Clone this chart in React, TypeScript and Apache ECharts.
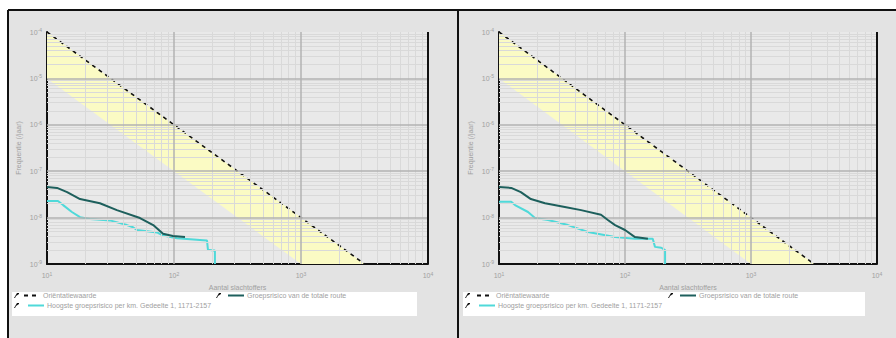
import React, { useEffect, useRef } from 'react';
import * as echarts from 'echarts';

// ---- data ----
const X_MIN_EXP = 1;
const X_MAX_EXP = 4;
const Y_MIN_EXP = -9;
const Y_MAX_EXP = -4;

const NAME_REF = 'Oriëntatiewaarde';
const NAME_TOTAL = 'Groepsrisico van de totale route';
const NAME_KM = 'Hoogste groepsrisico per km. Gedeelte 1, 1171-2157';
const X_TITLE = 'Aantal slachtoffers';
const Y_TITLE = 'Frequentie (/jaar)';

// oriëntatiewaarde: F = 1e-2 / N^2
const refN = [10, 3162.3];
const refF = [1e-4, 1e-9];
// lower edge of the yellow band (0.1 x oriëntatiewaarde)
const bandLowN = [10, 1000];
const bandLowF = [1e-5, 1e-9];

// left panel
const leftTotalN = [10, 12, 14.4, 18.2, 26.1, 35.5, 54, 68.6, 82, 98, 122];
const leftTotalF = [4.57e-8, 4.37e-8, 3.55e-8, 2.51e-8, 2.04e-8, 1.45e-8, 9.8e-9, 6.9e-9, 4.5e-9, 4.0e-9, 3.8e-9];
const leftKmN = [10, 12.2, 13.4, 15.7, 18.2, 21.8, 31.3, 42.6, 47.6, 51.1, 73.5, 82, 105.5, 160, 182, 185, 203, 210, 210];
const leftKmF = [2.29e-8, 2.29e-8, 1.86e-8, 1.32e-8, 1.02e-8, 9.3e-9, 8.7e-9, 6.9e-9, 6.2e-9, 5.4e-9, 4.8e-9, 4.1e-9, 3.6e-9, 3.3e-9, 3.2e-9, 2.04e-9, 1.95e-9, 1.95e-9, 1e-9];

// right panel
const rightTotalN = [10, 12.5, 14.9, 17.9, 23.2, 33.3, 44.8, 64.5, 73.1, 83.4, 100, 120, 152];
const rightTotalF = [4.57e-8, 4.37e-8, 3.55e-8, 2.51e-8, 2.04e-8, 1.7e-8, 1.45e-8, 1.15e-8, 8.9e-9, 6.9e-9, 5.4e-9, 3.8e-9, 3.5e-9];
const rightKmN = [10, 12.5, 13.4, 17, 19.3, 24.5, 35.3, 50.8, 83.4, 120, 166, 173, 194, 208, 208];
const rightKmF = [2.19e-8, 2.19e-8, 1.86e-8, 1.32e-8, 9.8e-9, 8.9e-9, 6.9e-9, 4.9e-9, 3.8e-9, 3.5e-9, 3.5e-9, 2.34e-9, 2.24e-9, 2.0e-9, 1e-9];

const MINOR_MULTS = [2, 3, 4, 5, 6, 7, 8, 9];

const zip = (a: number[], b: number[]) => a.map((v, i) => [v, b[i]]);

const TXT = '#a0a0a0';
const FONT = 'Liberation Sans, Arial, sans-serif';

function buildGridLines() {
  const xMin = Math.pow(10, X_MIN_EXP);
  const xMax = Math.pow(10, X_MAX_EXP);
  const yMin = Math.pow(10, Y_MIN_EXP);
  const yMax = Math.pow(10, Y_MAX_EXP);
  const lines: any[] = [];
  const minor = { color: '#d9d9d9', width: 1, type: 'solid' };
  const major = { color: '#b2b2b2', width: 1.5, type: 'solid' };
  const vLine = (x: number, st: any) => [{ coord: [x, yMin], lineStyle: st }, { coord: [x, yMax] }];
  const hLine = (y: number, st: any) => [{ coord: [xMin, y], lineStyle: st }, { coord: [xMax, y] }];
  for (let e = Y_MIN_EXP; e < Y_MAX_EXP; e++) {
    MINOR_MULTS.forEach((m) => lines.push(hLine(m * Math.pow(10, e), minor)));
  }
  for (let e = X_MIN_EXP; e < X_MAX_EXP; e++) {
    MINOR_MULTS.forEach((m) => lines.push(vLine(m * Math.pow(10, e), minor)));
  }
  for (let e = Y_MIN_EXP + 1; e < Y_MAX_EXP; e++) lines.push(hLine(Math.pow(10, e), major));
  for (let e = X_MIN_EXP + 1; e < X_MAX_EXP; e++) lines.push(vLine(Math.pow(10, e), major));
  lines.push(vLine(xMax, { color: '#111', width: 2, type: 'solid' }));
  return lines;
}

const supFormatter = (v: number) => `{b|10}{s|${Math.round(Math.log10(v))}}`;
const labelRich = {
  b: { fontSize: 7, color: TXT, fontFamily: FONT },
  s: { fontSize: 5, color: TXT, fontFamily: FONT, padding: [0, 0, 4, 0] },
};

function panelSeries(idx: number, totalN: number[], totalF: number[], kmN: number[], kmF: number[]) {
  const bandPoly = [
    [refN[0], refF[0]],
    [refN[1], refF[1]],
    [bandLowN[1], bandLowF[1]],
    [bandLowN[0], bandLowF[0]],
  ];
  return [
    {
      type: 'custom',
      xAxisIndex: idx,
      yAxisIndex: idx,
      z: 1,
      silent: true,
      data: bandPoly,
      encode: { x: 0, y: 1 },
      renderItem: (params: any, api: any) => {
        if (params.dataIndexInside !== 0) return null;
        const pts = bandPoly.map((p) => api.coord(p));
        return { type: 'polygon', shape: { points: pts }, style: { fill: '#fbfbc4' } };
      },
    },
    {
      type: 'line',
      xAxisIndex: idx,
      yAxisIndex: idx,
      z: 2,
      silent: true,
      symbol: 'none',
      data: [[10, 1e-9]],
      lineStyle: { width: 0 },
      markLine: { silent: true, symbol: 'none', label: { show: false }, animation: false, data: buildGridLines() },
    },
    {
      name: NAME_REF,
      type: 'line',
      xAxisIndex: idx,
      yAxisIndex: idx,
      z: 3,
      symbol: 'none',
      data: zip(refN, refF),
      lineStyle: { color: '#111', width: 1.6, type: [4, 4] },
      itemStyle: { color: '#111' },
    },
    {
      name: NAME_KM,
      type: 'line',
      xAxisIndex: idx,
      yAxisIndex: idx,
      z: 4,
      symbol: 'none',
      data: zip(kmN, kmF),
      lineStyle: { color: '#4fd9d9', width: 2 },
      itemStyle: { color: '#4fd9d9' },
    },
    {
      name: NAME_TOTAL,
      type: 'line',
      xAxisIndex: idx,
      yAxisIndex: idx,
      z: 5,
      symbol: 'none',
      data: zip(totalN, totalF),
      lineStyle: { color: '#1d5f5c', width: 2 },
      itemStyle: { color: '#1d5f5c' },
    },
  ];
}

function axesFor(idx: number) {
  const xAxis = {
    type: 'log',
    gridIndex: idx,
    logBase: 10,
    min: Math.pow(10, X_MIN_EXP),
    max: Math.pow(10, X_MAX_EXP),
    name: X_TITLE,
    nameLocation: 'middle',
    nameGap: 20,
    nameTextStyle: { color: TXT, fontSize: 7, fontFamily: FONT },
    axisLine: { show: true, lineStyle: { color: '#111', width: 2 } },
    axisTick: { show: false },
    splitLine: { show: false },
    axisLabel: { formatter: supFormatter, rich: labelRich, margin: 7 },
  };
  const yAxis = {
    type: 'log',
    gridIndex: idx,
    logBase: 10,
    min: Math.pow(10, Y_MIN_EXP),
    max: Math.pow(10, Y_MAX_EXP),
    name: Y_TITLE,
    nameLocation: 'middle',
    nameGap: 25,
    nameTextStyle: { color: TXT, fontSize: 7, fontFamily: FONT },
    axisLine: { show: true, lineStyle: { color: '#111', width: 2 } },
    axisTick: { show: false },
    splitLine: { show: false },
    axisLabel: { formatter: supFormatter, rich: labelRich, margin: 5 },
  };
  return { xAxis, yAxis };
}

function legendAt(name: string, left: number, top: number) {
  return {
    data: [name],
    left,
    top,
    orient: 'horizontal',
    selectedMode: false,
    itemWidth: 16,
    itemHeight: 8,
    itemGap: 4,
    padding: 0,
    itemStyle: { opacity: 0 },
    textStyle: { color: TXT, fontSize: 7, fontFamily: FONT, padding: [0, 0, 0, -2] },
  };
}

function pencil(x: number, y: number) {
  return {
    type: 'polygon',
    silent: true,
    shape: { points: [[x, y + 3], [x + 3, y - 2], [x + 5, y - 2], [x + 5, y - 1], [x + 2, y + 1], [x + 1, y + 3]] },
    style: { fill: '#111' },
  };
}

export default function App() {
  const ref = useRef<HTMLDivElement>(null);
  useEffect(() => {
    if (!ref.current) return;
    const chart = echarts.init(ref.current, undefined, { renderer: 'svg' });
    const a0 = axesFor(0);
    const a1 = axesFor(1);
    chart.setOption({
      animation: false,
      backgroundColor: '#ffffff',
      grid: [
        { left: 47, top: 32, width: 381, height: 232, show: true, backgroundColor: '#e9e9e9', borderWidth: 0 },
        { left: 499, top: 32, width: 378, height: 232, show: true, backgroundColor: '#e9e9e9', borderWidth: 0 },
      ],
      xAxis: [a0.xAxis, a1.xAxis],
      yAxis: [a0.yAxis, a1.yAxis],
      legend: [
        legendAt(NAME_REF, 23, 292),
        legendAt(NAME_TOTAL, 227, 292),
        legendAt(NAME_KM, 27, 302),
        legendAt(NAME_REF, 476, 292),
        legendAt(NAME_TOTAL, 679, 292),
        legendAt(NAME_KM, 478, 302),
      ],
      graphic: [
        { type: 'rect', z: -10, silent: true, shape: { x: 8, y: 10, width: 888, height: 328 }, style: { fill: '#e3e3e3' } },
        { type: 'rect', z: -5, silent: true, shape: { x: 12, y: 292, width: 405, height: 24 }, style: { fill: '#ffffff' } },
        { type: 'rect', z: -5, silent: true, shape: { x: 463, y: 292, width: 402, height: 24 }, style: { fill: '#ffffff' } },
        { type: 'line', z: 10, silent: true, shape: { x1: 8, y1: 10, x2: 896, y2: 10 }, style: { stroke: '#111', lineWidth: 2 } },
        { type: 'line', z: 10, silent: true, shape: { x1: 8, y1: 10, x2: 8, y2: 338 }, style: { stroke: '#111', lineWidth: 2 } },
        { type: 'line', z: 10, silent: true, shape: { x1: 458, y1: 10, x2: 458, y2: 338 }, style: { stroke: '#111', lineWidth: 2 } },
        pencil(14, 295),
        pencil(216, 295),
        pencil(14, 305),
        pencil(465, 295),
        pencil(668, 295),
        pencil(465, 305),
      ],
      series: [
        ...panelSeries(0, leftTotalN, leftTotalF, leftKmN, leftKmF),
        ...panelSeries(1, rightTotalN, rightTotalF, rightKmN, rightKmF),
      ],
    });
    return () => chart.dispose();
  }, []);
  return <div ref={ref} style={{ position: 'absolute', left: 0, top: 0, width: 896, height: 338 }} />;
}
